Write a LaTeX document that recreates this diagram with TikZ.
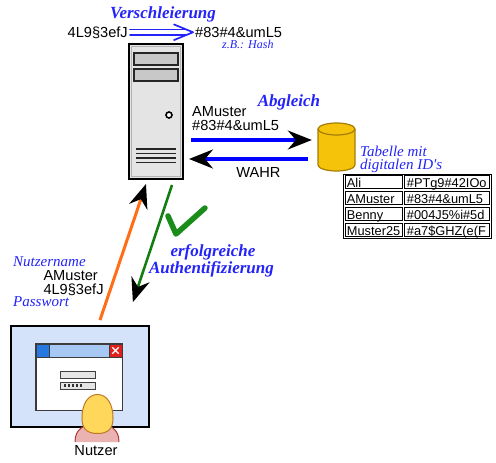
\documentclass[tikz,border=0pt]{standalone}
\usepackage{fontspec}
\setmainfont{Liberation Sans}
\newfontfamily\timesfont{Liberation Serif}
\usetikzlibrary{arrows.meta,calc}

\definecolor{lblue}{RGB}{35,35,250}
\definecolor{arrblue}{RGB}{0,0,255}
\definecolor{okgreen}{RGB}{25,140,25}
\definecolor{arrgreen}{RGB}{20,125,20}
\definecolor{orng}{RGB}{255,110,20}
\definecolor{gold}{RGB}{245,195,10}
\definecolor{golddark}{RGB}{165,125,0}
\definecolor{screen}{RGB}{212,226,250}
\definecolor{titlebar}{RGB}{168,200,244}
\definecolor{winblue}{RGB}{40,120,225}
\definecolor{winline}{RGB}{60,60,60}
\definecolor{closered}{RGB}{225,30,30}
\definecolor{skin}{RGB}{255,215,90}
\definecolor{skinline}{RGB}{190,120,40}
\definecolor{shirt}{RGB}{235,178,178}
\definecolor{shirtline}{RGB}{170,60,60}
\definecolor{casegray}{RGB}{228,228,228}
\definecolor{baygray}{RGB}{200,200,200}

\tikzset{
  txt/.style={font=\fontsize{14.6}{17}\selectfont, inner sep=0pt, text height=10.5pt, text depth=0pt},
  celltxt/.style={font=\fontsize{12.8}{14}\selectfont, inner sep=0pt, anchor=base west},
  heading/.style={text=lblue, font=\timesfont\bfseries\itshape\fontsize{17}{19}\selectfont, inner sep=0pt, anchor=base},
  note/.style={text=lblue, font=\timesfont\itshape\fontsize{15}{17}\selectfont, inner sep=0pt, anchor=base west},
  bigtip/.style={-{Stealth[length=24pt,width=19pt,inset=8pt,color=black]}},
  flow/.style={arrblue, line width=3.2pt, bigtip},
  cellbox/.style={draw=black, line width=0.9pt},
  hollow/.style={lblue, line width=1.7pt, line cap=round, line join=round},
}

\begin{document}
\begin{tikzpicture}[x=1pt,y=-1pt]
\useasboundingbox (0,0) rectangle (496,463);
\fill[white] (0,0) rectangle (496,463);

% --- obfuscation of the password ---
\node[heading] (vtitle) at (163,19) {Verschleierung};
\node[txt, anchor=base east] (pw) at (128,37.5) {4L9§3efJ};
\node[txt, anchor=base west] (hash) at (195,37.5) {\#83\#4\&umL5};
\node[note, font=\timesfont\itshape\fontsize{12}{13}\selectfont] (zb) at (222,48.5) {z.B.: Hash};
% hollow double arrow
\coordinate (dstart) at ([xshift=2pt]pw.east);
\coordinate (dend) at ([xshift=-2pt]hash.west);
\draw[hollow] ($(dstart)+(0,-2.8)$) -- ($(dend)+(-7,-2.8)$)
              ($(dstart)+(0,2.8)$) -- ($(dend)+(-7,2.8)$);
\draw[hollow] ($(dend)+(-19,-7.8)$) .. controls ($(dend)+(-9,-3.3)$) .. (dend)
              .. controls ($(dend)+(-9,3.3)$) .. ($(dend)+(-19,7.8)$);

% --- server tower ---
\node[draw=black, line width=2pt, fill=casegray, minimum width=54pt, minimum height=135pt, inner sep=0pt] (server) at (156,111.5) {};
\draw[gray!60, line width=0.8pt] (131.8,46.8) rectangle (180.2,176.2);
\draw[fill=baygray, draw=black!85, line width=1.2pt] (134,53) rectangle (178,65);
\draw[fill=baygray, draw=black!85, line width=1.2pt] (134,69) rectangle (178,81);
\draw[fill=white, line width=1.6pt] (169,115) circle[radius=3];
\foreach \v in {149,153.5,158,162.5}
  \draw[black!85, line width=1.4pt] (136,\v) -- (176,\v);

% --- comparison with the database ---
\node[txt, anchor=base west] (qname) at (192,116.5) {AMuster};
\node[txt, anchor=base west] (qhash) at (192,130) {\#83\#4\&umL5};
\node[heading] (cmp) at (289,106) {Abgleich};
\node[txt, anchor=base] (ok) at (258.5,177) {WAHR};

\node[minimum width=37pt, minimum height=48pt, inner sep=0pt] (db) at (336.5,147) {};
\fill[gold] (318,129) rectangle (355,165);
\fill[gold] (336.5,165) ellipse[x radius=18.5, y radius=6];
\draw[golddark, line width=1.2pt] (318,129) -- (318,165)
  arc[start angle=180, end angle=0, x radius=18.5, y radius=6] -- (355,129);
\draw[golddark, fill=gold, line width=1.2pt] (336.5,129) ellipse[x radius=18.5, y radius=6];

\draw[flow] ($(server.east)+(7,28.5)$) -- ($(db.west)+(-6,-7)$);
\draw[flow] ($(db.west)+(-10,12)$) -- ($(server.east)+(5,47.5)$);

% --- table of stored ids ---
\node[note] (tcap1) at (360,156) {Tabelle mit};
\node[note] (tcap2) at (360,169.5) {digitalen ID's};
\node[draw=black, line width=1pt, minimum width=148pt, minimum height=64pt, inner sep=0pt] (tbl) at (417.5,206) {};
\foreach \r in {0,1,2,3} {
  \draw[cellbox] (345.2,174+16*\r+1.4) rectangle (402,174+16*\r+14.6);
  \draw[cellbox] (404.6,174+16*\r+1.4) rectangle (489.8,174+16*\r+14.6);
}
\node[celltxt] (n1) at (346.7,187) {Ali};
\node[celltxt] (h1) at (406.7,187) {\#PTg9\#42IOo};
\node[celltxt] (n2) at (346.7,203) {AMuster};
\node[celltxt] (h2) at (406.7,203) {\#83\#4\&umL5};
\node[celltxt] (n3) at (346.7,219) {Benny};
\node[celltxt] (h3) at (406.7,219) {\#004J5\%i\#5d};
\node[celltxt] (n4) at (346.7,235) {Muster25};
\node[celltxt] (h4) at (406.7,235) {\#a7\$GHZ(e(F};

% --- login and answer ---
\node[note] (lname) at (13,266.7) {Nutzername};
\node[txt, anchor=base west] (uname) at (43.3,280) {AMuster};
\node[txt, anchor=base west] (upw) at (43.3,294) {4L9§3efJ};
\node[note] (lpw) at (13,306) {Passwort};

\node[heading] (succ1) at (213,256) {erfolgreiche};
\node[heading] (succ2) at (211.5,273) {Authentifizierung};
\draw[okgreen, line width=5.5pt, line cap=round, line join=round] (168,216) -- (176,234) -- (205,208);

% --- user at the screen ---
\node[draw=black, line width=1.8pt, fill=screen, minimum width=138pt, minimum height=101pt, inner sep=0pt] (mon) at (80,376.5) {};
\node[fill=white, minimum width=86pt, minimum height=66pt, inner sep=0pt, anchor=north west] (win) at (36,344) {};
\fill[titlebar] (36,344) rectangle (122,357);
\fill[winblue] (36,344) rectangle (49,357);
\fill[closered] (109,344) rectangle (122,357);
\draw[white, line width=1.3pt] (112.3,347.3) -- (118.7,353.7) (112.3,353.7) -- (118.7,347.3);
\draw[winline, line width=1pt] (36,357) -- (122,357) (49,344) -- (49,357) (109,344) -- (109,357);
\draw[winline, line width=1.4pt] (win.north west) rectangle (win.south east);
\draw[fill=gray!20, draw=black!75, line width=1pt] (60,371) rectangle (95,378);
\draw[fill=gray!20, draw=black!75, line width=1pt] (60,382) rectangle (95,389);
\foreach \i in {0,...,4}
  \fill[black!80] (63.5+4*\i,384.4) rectangle ++(2.2,2.2);

\fill[shirt] (75,442) .. controls (75,428) and (85,424) .. (97,424)
  .. controls (109,424) and (119,428) .. (119,442) -- cycle;
\draw[shirtline, line width=1pt] (75,442) .. controls (75,428) and (85,424) .. (97,424)
  .. controls (109,424) and (119,428) .. (119,442);
\draw[skinline, fill=skin, line width=1pt] (97.5,433.5)
  .. controls (86,433.5) and (82,428) .. (82,418)
  .. controls (82,404) and (88,394.5) .. (97.5,394.5)
  .. controls (107,394.5) and (113,404) .. (113,418)
  .. controls (113,428) and (109,433.5) .. (97.5,433.5) -- cycle;
\node[txt, anchor=base] (user) at (96,455) {Nutzer};

\draw[orng, line width=3pt, bigtip] ($(mon.north)+(20,-5)$) -- ($(server.south)+(-10,4)$);
\draw[arrgreen, line width=2.6pt, bigtip] ($(server.south)+(16,5)$) -- ($(mon.north east)+(-17,-23)$);
\end{tikzpicture}
\end{document}
